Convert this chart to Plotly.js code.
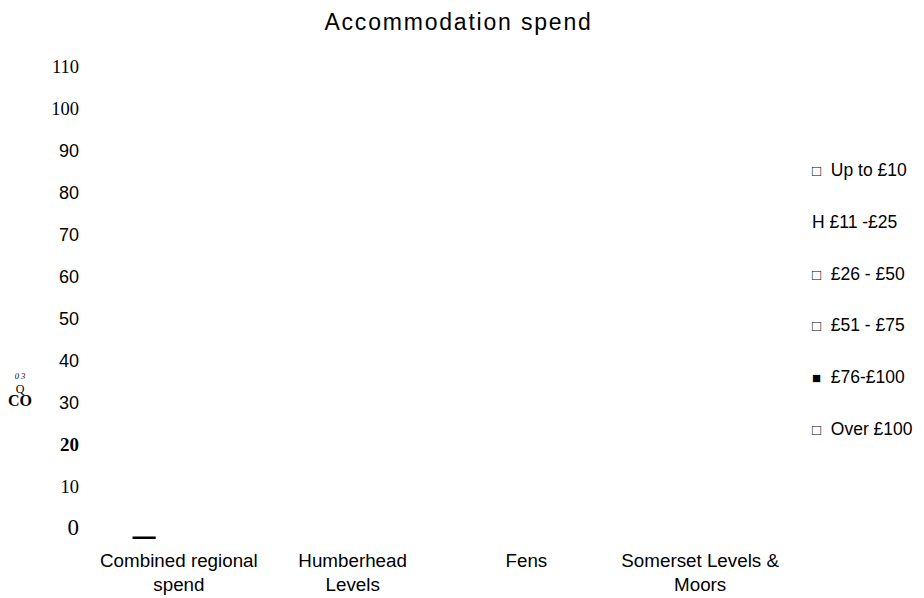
<!DOCTYPE html>
<html>
<head>
<meta charset="utf-8">
<script src="https://cdn.plot.ly/plotly-3.0.1.min.js"></script>
<style>html,body{margin:0;padding:0;background:#fff;}#chart{width:924px;height:598px;}</style>
</head>
<body>
<div id="chart"></div>
<script>
// ---- data ----
const categories = ['Combined regional<br>spend', 'Humberhead<br>Levels', 'Fens', 'Somerset Levels &<br>Moors'];
const seriesNames = ['□ Up to £10', 'H £11 -£25', '□ £26 - £50', '□ £51 - £75', '■ £76-£100', '□ Over £100'];
const upTo10   = [0, 0, 0, 0];
const from11   = [0.6, 0, 0, 0];
const from26   = [0, 0, 0, 0];
const from51   = [0, 0, 0, 0];
const from76   = [0, 0, 0, 0];
const over100  = [0, 0, 0, 0];
const seriesValues = [upTo10, from11, from26, from51, from76, over100];
const tickVals = [0, 10, 20, 30, 40, 50, 60, 70, 80, 90, 100, 110];
const tickLabels = ['0', '10', '20', '30', '40', '50', '60', '70', '80', '90', '100', '110'];
const titleText = 'Accommodation spend';
const axisTitleParts = ['0 3', 'Q', 'CO'];

// ---- styling of the (garbled) tick labels ----
const serif = 'font-family:Liberation Serif';
const tickStyles = {
  '0': serif + ';font-size:23px',
  '10': serif + ';font-size:18.5px',
  '20': serif + ';font-size:19px;font-weight:bold',
  '100': serif + ';font-size:18.5px',
  '110': serif + ';font-size:18.5px'
};
const tickText = tickLabels.map(t => tickStyles[t] ? '<span style="' + tickStyles[t] + '">' + t + '</span>' : t);

const W = 924, H = 598;
const M = {l: 91.6, r: 137.1, t: 77, b: 59};
const plotW = W - M.l - M.r, plotH = H - M.t - M.b;
const px = x => (x - M.l) / plotW;
const py = y => (H - M.b - y) / plotH;

const traces = seriesNames.map((n, i) => ({
  type: 'bar',
  name: n,
  x: categories,
  y: seriesValues[i],
  marker: {color: '#000000', line: {width: 0}},
  showlegend: false,
  hoverinfo: 'skip'
}));

const annotations = [];
seriesNames.forEach((n, i) => {
  const txt = n.replace(/^([□■])\s*/, '<span style="font-size:15px">$1</span>  ');
  annotations.push({
    xref: 'paper', yref: 'paper', x: px(810), y: py(170 + 51.8 * i),
    xanchor: 'left', yanchor: 'middle', showarrow: false, text: txt,
    font: {family: 'Liberation Sans', size: 17.5, color: '#000'}
  });
});
// garbled axis title
annotations.push({
  xref: 'paper', yref: 'paper', x: px(20), y: py(390), xanchor: 'center', yanchor: 'middle', showarrow: false,
  align: 'center',
  text: '<span style="font-size:8.5px"><i>' + axisTitleParts[0] + '</i></span><br><span style="font-size:12px">' + axisTitleParts[1] +
        '</span><br><span style="font-size:16px"><b>' + axisTitleParts[2] + '</b></span>',
  font: {family: 'Liberation Serif', size: 10.5, color: '#000'}
});

const layout = {
  width: W, height: H,
  margin: M,
  paper_bgcolor: '#ffffff', plot_bgcolor: '#ffffff',
  barmode: 'group', bargap: 0.2, bargroupgap: 0,
  showlegend: false,
  title: {
    text: '<span style="letter-spacing:1.8px">' + titleText + '</span>',
    x: 458.5 / W, xref: 'container', xanchor: 'center',
    y: 1 - 22 / H, yref: 'container', yanchor: 'middle',
    font: {family: 'Liberation Sans', size: 23, color: '#000'}
  },
  xaxis: {
    type: 'category', showgrid: false, zeroline: false, showline: false, ticks: '',
    tickfont: {family: 'Liberation Sans', size: 18.8, color: '#000'},
    ticklabelstandoff: 8
  },
  yaxis: {
    range: [0, 110], tickvals: tickVals, ticktext: tickText,
    showgrid: false, zeroline: false, showline: false, ticks: '',
    tickfont: {family: 'Liberation Sans', size: 18, color: '#000'},
    ticklabelstandoff: 12, ticklabelshift: -10
  },
  annotations: annotations
};

Plotly.newPlot('chart', traces, layout, {displayModeBar: false, staticPlot: true});
</script>
</body>
</html>
